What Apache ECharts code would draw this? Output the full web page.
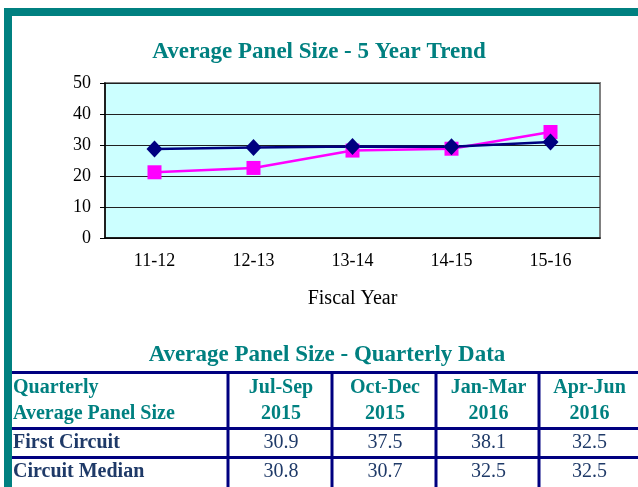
<!DOCTYPE html>
<html>
<head>
<meta charset="utf-8">
<script src="https://cdn.jsdelivr.net/npm/echarts@6/dist/echarts.min.js"></script>
<style>
  html, body { margin: 0; padding: 0; background: #fff; }
  #main { width: 638px; height: 487px; }
</style>
</head>
<body>
<div id="main"></div>
<script>
// 5 year trend
let fiscalYears = ['11-12', '12-13', '13-14', '14-15', '15-16'];
let firstCircuit = [21.2, 22.6, 28.2, 28.8, 34.2];
let circuitMedian = [28.7, 29.2, 29.5, 29.4, 31.0];
let yTicks = [0, 10, 20, 30, 40, 50];

// quarterly table
let quarterNames = ['Jul-Sep', 'Oct-Dec', 'Jan-Mar', 'Apr-Jun'];
let quarterYears = ['2015', '2015', '2016', '2016'];
let rowNames = ['First Circuit', 'Circuit Median'];
let firstCircuitQ = [30.9, 37.5, 38.1, 32.5];
let circuitMedianQ = [30.8, 30.7, 32.5, 32.5];

const serif = "'Liberation Serif', 'Times New Roman', serif";
const teal = '#008080';
const navy = '#000080';
const ink = '#1F3A68';

let chart = echarts.init(document.getElementById('main'), null, { renderer: 'canvas' });

//表格
function buildTable() {
  let els = [];
  let top = 372.5, h1 = 428.5, h2 = 457.5, bottom = 487;
  let cols = [228, 332, 436, 539, 638];
  let rows = [firstCircuitQ, circuitMedianQ];

  //外框
  els.push({ type: 'rect', shape: { x: 4, y: 8, width: 634, height: 8 }, style: { fill: teal } });
  els.push({ type: 'rect', shape: { x: 4, y: 8, width: 8, height: 479 }, style: { fill: teal } });

  els.push({
    type: 'text', x: 327, y: 355,
    style: { text: 'Average Panel Size - Quarterly Data', fill: teal, font: 'bold 23px ' + serif, align: 'center', verticalAlign: 'middle' }
  });

  [top, h1, h2].forEach(y => {
    els.push({ type: 'line', shape: { x1: 12, y1: y, x2: 638, y2: y }, style: { stroke: navy, lineWidth: 3 } });
  });
  cols.slice(0, 4).forEach(x => {
    els.push({ type: 'line', shape: { x1: x, y1: top, x2: x, y2: bottom }, style: { stroke: navy, lineWidth: 3 } });
  });

  let hFont = 'bold 20px ' + serif;
  els.push({ type: 'text', x: 13, y: 388, style: { text: 'Quarterly', fill: teal, font: hFont, verticalAlign: 'middle' } });
  els.push({ type: 'text', x: 13, y: 414, style: { text: 'Average Panel Size', fill: teal, font: hFont, verticalAlign: 'middle' } });

  quarterNames.forEach((q, i) => {
    let cx = (cols[i] + cols[i + 1]) / 2 + 1;
    els.push({ type: 'text', x: cx, y: 388, style: { text: q, fill: teal, font: hFont, align: 'center', verticalAlign: 'middle' } });
    els.push({ type: 'text', x: cx, y: 414, style: { text: quarterYears[i], fill: teal, font: hFont, align: 'center', verticalAlign: 'middle' } });
  });

  let rowY = [443, 472];
  rowNames.forEach((name, r) => {
    els.push({ type: 'text', x: 13, y: rowY[r], style: { text: name, fill: ink, font: 'bold 20px ' + serif, verticalAlign: 'middle' } });
    rows[r].forEach((v, i) => {
      let cx = (cols[i] + cols[i + 1]) / 2 + 1;
      els.push({ type: 'text', x: cx, y: rowY[r], style: { text: v.toFixed(1), fill: ink, font: '20px ' + serif, align: 'center', verticalAlign: 'middle' } });
    });
  });
  return els;
}

let option = {
  backgroundColor: '#ffffff',
  animation: false,
  title: {
    text: 'Average Panel Size - 5 Year Trend',
    left: 'center',
    top: 36,
    textStyle: { color: teal, fontFamily: serif, fontWeight: 'bold', fontSize: 23 }
  },
  grid: {
    left: 105, top: 83, right: 38, bottom: 249,
    show: true,
    backgroundColor: '#CCFFFF',
    borderColor: '#808080',
    borderWidth: 2
  },
  xAxis: {
    type: 'category',
    data: fiscalYears,
    name: 'Fiscal Year',
    nameLocation: 'middle',
    nameGap: 51,
    nameTextStyle: { color: '#000', fontFamily: serif, fontSize: 20 },
    axisLine: { lineStyle: { color: '#000', width: 1.5 } },
    axisTick: { length: 5, lineStyle: { color: '#000' } },
    axisLabel: { color: '#000', fontFamily: serif, fontSize: 18, margin: 14 }
  },
  yAxis: {
    type: 'value',
    min: yTicks[0],
    max: yTicks[yTicks.length - 1],
    interval: 10,
    axisLine: { show: true, lineStyle: { color: '#000', width: 1.5 } },
    axisTick: { show: true, length: 5, lineStyle: { color: '#000' } },
    axisLabel: { color: '#000', fontFamily: serif, fontSize: 18, margin: 14 },
    splitLine: { lineStyle: { color: '#202020', width: 1 } }
  },
  series: [
    {
      name: 'First Circuit',
      type: 'line',
      data: firstCircuit,
      symbol: 'rect',
      symbolSize: 14,
      lineStyle: { color: '#FF00FF', width: 2.5 },
      itemStyle: { color: '#FF00FF' }
    },
    {
      name: 'Circuit Median',
      type: 'line',
      data: circuitMedian,
      symbol: 'diamond',
      symbolSize: [16, 17],
      lineStyle: { color: navy, width: 2.5 },
      itemStyle: { color: navy }
    }
  ],
  graphic: buildTable()
};

chart.setOption(option);
</script>
</body>
</html>
